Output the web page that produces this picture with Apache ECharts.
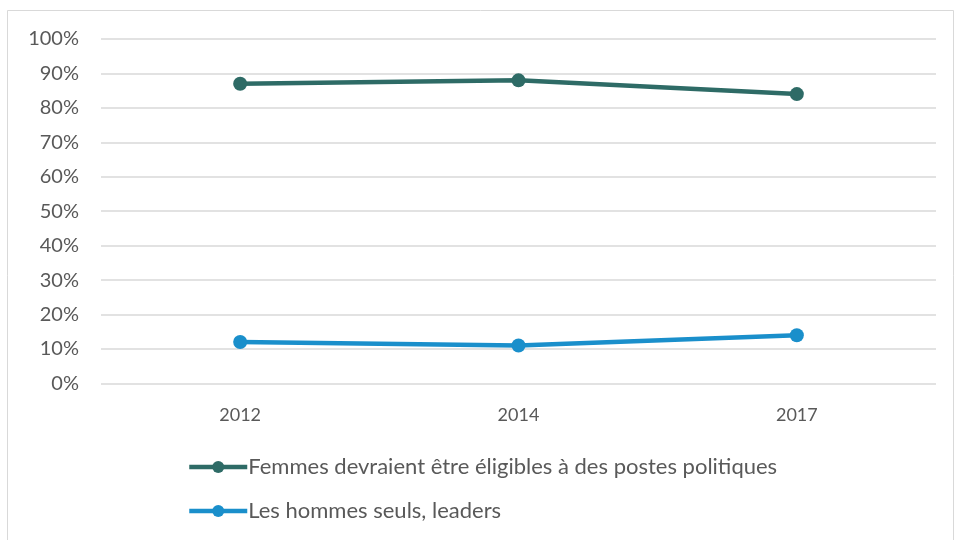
<!DOCTYPE html>
<html>
<head>
<meta charset="utf-8">
<script src="https://cdn.jsdelivr.net/npm/echarts@6/dist/echarts.min.js"></script>
<style>
  html, body { margin: 0; padding: 0; background: #fff; }
  #main { width: 954px; height: 540px; }
</style>
</head>
<body>
<div id="main"></div>
<script>
// data
const years = ['2012', '2014', '2017']
const eligibles = [87, 88, 84]
const hommesSeuls = [12, 11, 14]
const seriesNames = [
  'Femmes devraient être éligibles à des postes politiques',
  'Les hommes seuls, leaders',
]

const textColor = '#595959'
const font = 'Lato, "Open Sans", sans-serif'

const myChart = echarts.init(document.getElementById('main'))
const option = {
  animation: false,
  backgroundColor: '#fff',
  graphic: [
    {
      type: 'rect',
      shape: { x: 7.5, y: 10.5, width: 946, height: 560 },
      style: { fill: 'none', stroke: '#d9d9d9', lineWidth: 1 },
      silent: true,
    },
  ],
  grid: {
    left: 101,
    right: 18,
    top: 39,
    bottom: 156.6,
  },
  legend: {
    orient: 'vertical',
    left: 182,
    top: 451,
    itemWidth: 58,
    itemHeight: 15,
    itemGap: 22,
    lineStyle: { width: 4.5 },
    textStyle: { color: textColor, fontSize: 22, fontFamily: font, padding: [0, 0, 0, -4] },
    data: seriesNames,
  },
  xAxis: {
    type: 'category',
    data: years,
    boundaryGap: true,
    axisLine: { show: false },
    axisTick: { show: false },
    axisLabel: { color: textColor, fontSize: 18, fontFamily: font, margin: 23 },
  },
  yAxis: {
    type: 'value',
    min: 0,
    max: 100,
    interval: 10,
    axisLine: { show: false },
    axisTick: { show: false },
    axisLabel: { color: textColor, fontSize: 20, fontFamily: font, margin: 22, formatter: '{value}%' },
    splitLine: { lineStyle: { color: '#d9d9d9', width: 1.5 } },
  },
  series: [
    {
      name: seriesNames[0],
      type: 'line',
      data: eligibles,
      symbol: 'circle',
      symbolSize: 14,
      lineStyle: { color: '#2e6b66', width: 4.5 },
      itemStyle: { color: '#2e6b66' },
    },
    {
      name: seriesNames[1],
      type: 'line',
      data: hommesSeuls,
      symbol: 'circle',
      symbolSize: 14,
      lineStyle: { color: '#1a8fcb', width: 4.5 },
      itemStyle: { color: '#1a8fcb' },
    },
  ],
}
myChart.setOption(option)
</script>
</body>
</html>
